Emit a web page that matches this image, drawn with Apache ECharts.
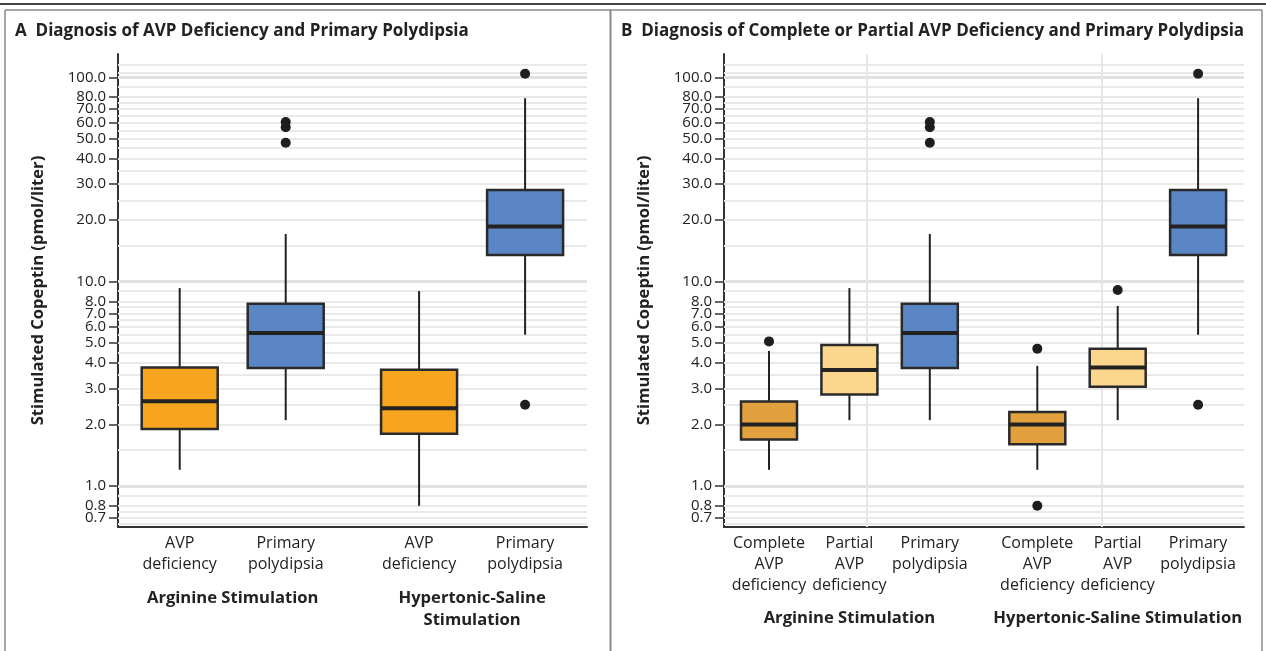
<!DOCTYPE html>
<html>
<head>
<meta charset="utf-8">
<script src="https://cdn.jsdelivr.net/npm/echarts@6/dist/echarts.min.js"></script>
<style>
  html, body { margin: 0; padding: 0; background: #ffffff; }
  #chart { width: 1266px; height: 651px; }
</style>
</head>
<body>
<div id="chart"></div>
<script>
// ---------------- DATA ----------------
const titleA = 'A  Diagnosis of AVP Deficiency and Primary Polydipsia';
const titleB = 'B  Diagnosis of Complete or Partial AVP Deficiency and Primary Polydipsia';
const yAxisTitle = 'Stimulated Copeptin (pmol/liter)';

const groupsA = ['Arginine Stimulation', 'Hypertonic-Saline\nStimulation'];
const groupsB = ['Arginine Stimulation', 'Hypertonic-Saline Stimulation'];

const categoriesA = ['AVP\ndeficiency', 'Primary\npolydipsia'];
const categoriesB = ['Complete\nAVP\ndeficiency', 'Partial\nAVP\ndeficiency', 'Primary\npolydipsia'];

// [min, Q1, median, Q3, max] per box, group by group
const statsA = [
  [1.20, 1.90, 2.60, 3.80, 9.3],   // Arginine - AVP deficiency
  [2.10, 3.78, 5.60, 7.80, 17.1],  // Arginine - Primary polydipsia
  [0.80, 1.80, 2.40, 3.71, 9.0],   // Hypertonic - AVP deficiency
  [5.50, 13.5, 18.6, 28.1, 79.0]   // Hypertonic - Primary polydipsia
];
const outliersA = [
  [],
  [47.8, 57.0, 60.4],
  [],
  [2.5, 104]
];

const statsB = [
  [1.20, 1.69, 2.00, 2.59, 4.58],  // Arginine - Complete AVP deficiency
  [2.10, 2.80, 3.70, 4.90, 9.3],   // Arginine - Partial AVP deficiency
  [2.10, 3.78, 5.60, 7.80, 17.1],  // Arginine - Primary polydipsia
  [1.20, 1.60, 2.00, 2.30, 3.87],  // Hypertonic - Complete AVP deficiency
  [2.10, 3.06, 3.80, 4.70, 7.6],   // Hypertonic - Partial AVP deficiency
  [5.50, 13.5, 18.6, 28.1, 79.0]   // Hypertonic - Primary polydipsia
];
const outliersB = [
  [5.1],
  [],
  [47.8, 57.0, 60.4],
  [4.7, 0.80],
  [9.1],
  [2.5, 104]
];

const yTickLabels = [0.7, 0.8, 1, 2, 3, 4, 5, 6, 7, 8, 10, 20, 30, 40, 50, 60, 70, 80, 100];
const gridMinor = [0.65, 0.7, 0.75, 0.8, 0.9, 1.5, 2, 2.5, 3, 3.5, 4, 4.5, 5, 5.5, 6, 6.5, 7, 7.5, 8, 9,
                   15, 20, 25, 30, 35, 40, 45, 50, 55, 60, 65, 70, 75, 80, 90, 105, 115];
const gridMajor = [1, 10, 100];

// ---------------- STYLE / LAYOUT ----------------
const FONT = '"Open Sans", Lato, "DejaVu Sans", sans-serif';
const colorsA = ['#F7A51E', '#5B86C5', '#F7A51E', '#5B86C5'];
const colorsB = ['#E2A03F', '#FDD68D', '#5B86C5', '#E2A03F', '#FDD68D', '#5B86C5'];
const gapA = 0.258, gapB = 0.337;     // extra space between stimulation groups (in category units)
const sepLinesB = [1.206, 4.142];      // vertical separators drawn in panel B
const Y_MIN = 0.63, Y_MAX = 130;

function positions(nGroups, nPer, gap) {
  const out = [];
  for (let g = 0; g < nGroups; g++) for (let i = 0; i < nPer; i++) out.push(g * (nPer + gap) + i);
  return out;
}
function groupCenters(nGroups, nPer, gap) {
  const out = [];
  for (let g = 0; g < nGroups; g++) out.push(g * (nPer + gap) + (nPer - 1) / 2);
  return out;
}
const posA = positions(2, 2, gapA);
const posB = positions(2, 3, gapB);
const gcA = groupCenters(2, 2, gapA);
const gcB = groupCenters(2, 3, gapB);

function nearestIndex(arr, v) {
  let best = 0, d = Infinity;
  arr.forEach((p, i) => { const dd = Math.abs(p - v); if (dd < d) { d = dd; best = i; } });
  return best;
}

function boxRenderer(boxPx, colors) {
  return function (params, api) {
    const x = api.value(0);
    const pMin = api.coord([x, api.value(1)]);
    const pQ1 = api.coord([x, api.value(2)]);
    const pMed = api.coord([x, api.value(3)]);
    const pQ3 = api.coord([x, api.value(4)]);
    const pMax = api.coord([x, api.value(5)]);
    const cx = pMed[0], h = boxPx / 2;
    return {
      type: 'group',
      children: [
        { type: 'line', shape: { x1: cx, y1: pMax[1], x2: cx, y2: pQ3[1] }, style: { stroke: '#222', lineWidth: 2 } },
        { type: 'line', shape: { x1: cx, y1: pQ1[1], x2: cx, y2: pMin[1] }, style: { stroke: '#222', lineWidth: 2 } },
        { type: 'rect', shape: { x: cx - h, y: pQ3[1], width: boxPx, height: pQ1[1] - pQ3[1] },
          style: { fill: colors[params.dataIndex], stroke: '#2a2a2a', lineWidth: 2.5 } },
        { type: 'line', shape: { x1: cx - h, y1: pMed[1], x2: cx + h, y2: pMed[1] }, style: { stroke: '#222', lineWidth: 4 } }
      ]
    };
  };
}

function gridMarkLines(extraVertical) {
  const d = [];
  gridMinor.forEach(v => d.push({ yAxis: v, lineStyle: { color: '#e9e9e9', width: 2, type: 'solid' } }));
  gridMajor.forEach(v => d.push({ yAxis: v, lineStyle: { color: '#e1e1e1', width: 3, type: 'solid' } }));
  (extraVertical || []).forEach(v => d.push({ xAxis: v, lineStyle: { color: '#e6e6e6', width: 2, type: 'solid' } }));
  return { silent: true, symbol: 'none', z: 1, label: { show: false }, emphasis: { disabled: true }, animation: false, data: d };
}

const yLabelStyle = { fontFamily: FONT, fontSize: 15, color: '#222', formatter: v => Number(v).toFixed(1) };

function yAxisDef(gridIndex) {
  return {
    type: 'log', logBase: 10, gridIndex, min: Y_MIN, max: Y_MAX,
    name: yAxisTitle, nameLocation: 'middle', nameGap: 71,
    nameTextStyle: { fontFamily: FONT, fontSize: 16.6, fontWeight: 'bold', color: '#222' },
    axisLine: { show: true, onZero: false, lineStyle: { color: '#333', width: 2 } },
    axisTick: { show: true, length: 9, customValues: yTickLabels, lineStyle: { color: '#333', width: 1.5 } },
    axisLabel: Object.assign({ show: true, margin: 12, customValues: yTickLabels.slice(1), hideOverlap: false }, yLabelStyle),
    splitLine: { show: false }, minorTick: { show: false }, minorSplitLine: { show: false }
  };
}
// companion axis carrying only the lowest tick label (avoids automatic min-label overlap hiding)
function yAxisLowLabel(gridIndex) {
  return {
    type: 'log', logBase: 10, gridIndex, min: Y_MIN, max: Y_MAX, position: 'left',
    axisLine: { show: false, onZero: false }, axisTick: { show: false },
    axisLabel: Object.assign({ show: true, margin: 12, customValues: yTickLabels.slice(0, 1), showMinLabel: true }, yLabelStyle),
    splitLine: { show: false }, minorTick: { show: false }, minorSplitLine: { show: false }
  };
}

function xAxisDef(gridIndex, min, max, pos, cats) {
  return {
    type: 'value', gridIndex, min, max, position: 'bottom',
    axisLine: { show: true, onZero: false, lineStyle: { color: '#333', width: 2 } },
    axisTick: { show: false },
    splitLine: { show: false },
    axisLabel: { show: true, margin: 6, customValues: pos, showMinLabel: true, showMaxLabel: true,
                 fontFamily: FONT, fontSize: 16, lineHeight: 21, color: '#222',
                 formatter: v => cats[nearestIndex(pos, v) % cats.length] }
  };
}
function groupAxisDef(gridIndex, min, max, centers, names, offset) {
  return {
    type: 'value', gridIndex, min, max, position: 'bottom', offset,
    axisLine: { show: false, onZero: false }, axisTick: { show: false }, splitLine: { show: false },
    axisLabel: { show: true, margin: 6, customValues: centers, showMinLabel: true, showMaxLabel: true,
                 fontFamily: FONT, fontSize: 16.6, fontWeight: 'bold',
                 lineHeight: 22, color: '#222', formatter: v => names[nearestIndex(centers, v)] }
  };
}

const minA = -0.582, maxA = 3.842, minB = -0.560, maxB = 5.908;

const boxDataA = statsA.map((s, i) => [posA[i]].concat(s));
const boxDataB = statsB.map((s, i) => [posB[i]].concat(s));
const outDataA = [], outDataB = [];
outliersA.forEach((arr, i) => arr.forEach(v => outDataA.push([posA[i], v])));
outliersB.forEach((arr, i) => arr.forEach(v => outDataB.push([posB[i], v])));

const option = {
  animation: false,
  backgroundColor: '#ffffff',
  title: [
    { text: titleA, left: 15, top: 23, padding: 0, textStyle: { fontFamily: FONT, fontSize: 17, fontWeight: 'bold', color: '#222' } },
    { text: titleB, left: 621, top: 23, padding: 0, textStyle: { fontFamily: FONT, fontSize: 17, fontWeight: 'bold', color: '#222' } }
  ],
  grid: [
    { left: 118, top: 54, width: 469, height: 473, containLabel: false },
    { left: 724, top: 54, width: 520, height: 473, containLabel: false }
  ],
  xAxis: [
    xAxisDef(0, minA, maxA, posA, categoriesA),
    groupAxisDef(0, minA, maxA, gcA, groupsA, 54),
    xAxisDef(1, minB, maxB, posB, categoriesB),
    groupAxisDef(1, minB, maxB, gcB, groupsB, 74)
  ],
  yAxis: [yAxisDef(0), yAxisDef(1), yAxisLowLabel(0), yAxisLowLabel(1)],
  series: [
    { type: 'custom', xAxisIndex: 0, yAxisIndex: 0, z: 3, renderItem: boxRenderer(76, colorsA),
      encode: { x: 0, y: [1, 2, 3, 4, 5] }, data: boxDataA, silent: true },
    { type: 'scatter', xAxisIndex: 0, yAxisIndex: 0, z: 4, symbol: 'circle', symbolSize: 10,
      itemStyle: { color: '#1e1e1e', opacity: 1 }, data: outDataA, silent: true, markLine: gridMarkLines([]) },
    { type: 'custom', xAxisIndex: 2, yAxisIndex: 1, z: 3, renderItem: boxRenderer(56, colorsB),
      encode: { x: 0, y: [1, 2, 3, 4, 5] }, data: boxDataB, silent: true },
    { type: 'scatter', xAxisIndex: 2, yAxisIndex: 1, z: 4, symbol: 'circle', symbolSize: 10,
      itemStyle: { color: '#1e1e1e', opacity: 1 }, data: outDataB, silent: true, markLine: gridMarkLines(sepLinesB) }
  ],
  graphic: [
    { type: 'line', silent: true, shape: { x1: 0, y1: 4, x2: 1266, y2: 4 }, style: { stroke: '#444', lineWidth: 2 } },
    { type: 'line', silent: true, shape: { x1: 5, y1: 10, x2: 1262, y2: 10 }, style: { stroke: '#8a8a8a', lineWidth: 1.5 } },
    { type: 'line', silent: true, shape: { x1: 5, y1: 10, x2: 5, y2: 651 }, style: { stroke: '#8a8a8a', lineWidth: 1.5 } },
    { type: 'line', silent: true, shape: { x1: 610.5, y1: 10, x2: 610.5, y2: 651 }, style: { stroke: '#8a8a8a', lineWidth: 2 } },
    { type: 'line', silent: true, shape: { x1: 1262, y1: 10, x2: 1262, y2: 651 }, style: { stroke: '#8a8a8a', lineWidth: 1.5 } }
  ]
};

const chart = echarts.init(document.getElementById('chart'), null, { renderer: 'canvas' });
chart.setOption(option);
</script>
</body>
</html>
